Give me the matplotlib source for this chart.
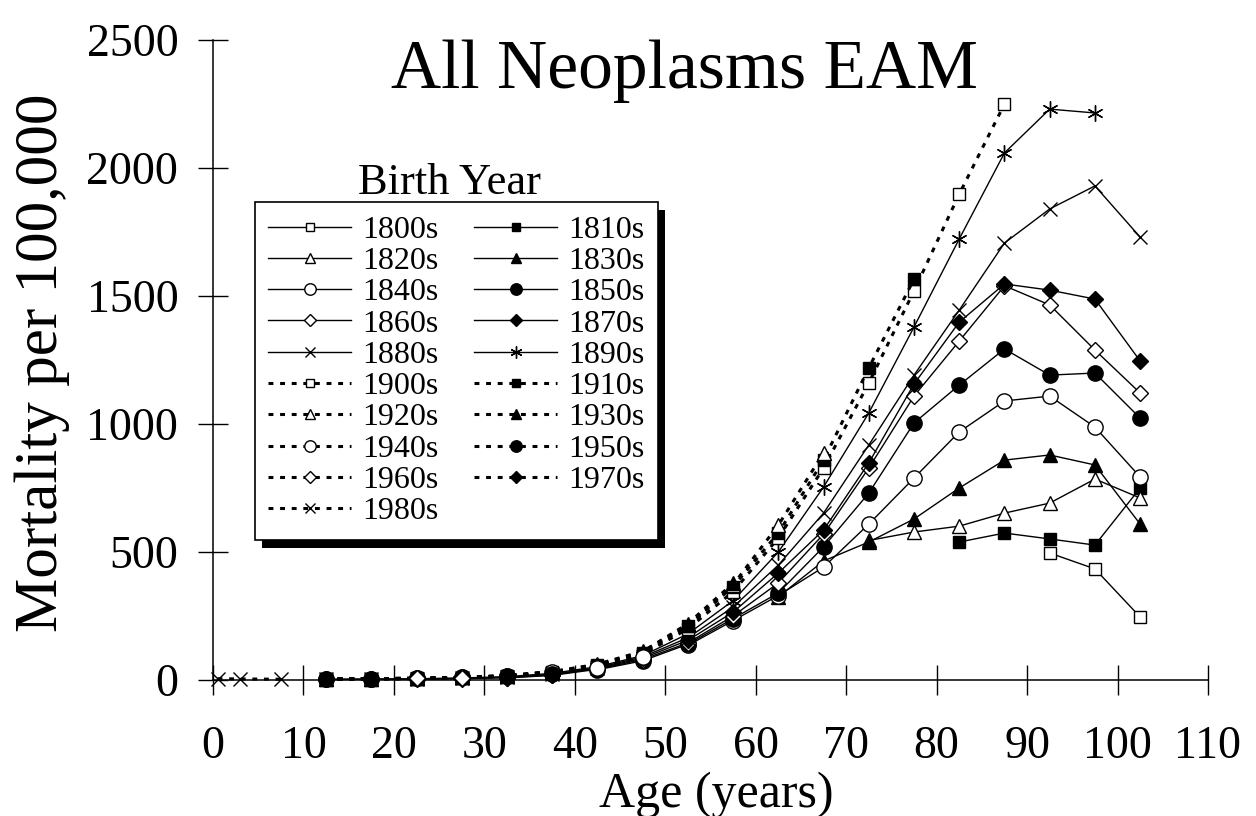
import matplotlib
matplotlib.use("Agg")
import matplotlib.pyplot as plt
from matplotlib.patches import Rectangle
from matplotlib.transforms import IdentityTransform

plt.rcParams['font.family'] = ['Liberation Serif', 'DejaVu Serif']

# ---- data ----
AGE_GRID = [12.5, 17.5, 22.5, 27.5, 32.5, 37.5, 42.5, 47.5, 52.5, 57.5,
            62.5, 67.5, 72.5, 77.5, 82.5, 87.5, 92.5, 97.5, 102.5]
cohorts = ["1800s", "1810s", "1820s", "1830s", "1840s", "1850s", "1860s",
           "1870s", "1880s", "1890s", "1900s", "1910s", "1920s", "1930s",
           "1940s", "1950s", "1960s", "1970s", "1980s"]
start_age = [92.5, 82.5, 72.5, 62.5, 52.5, 42.5, 32.5, 22.5, 12.5, 12.5,
             12.5, 12.5, 12.5, 12.5, 12.5, 12.5, 12.5, 12.5, None]
ages_1980s = [0.5, 3, 7.5]

m1800 = [496, 434, 246]
m1810 = [539, 574, 551, 527, 750]
m1820 = [545, 578, 601, 652, 691, 785, 711]
m1830 = [325, 465, 539, 629, 750, 859, 879, 840, 609]
m1840 = [135, 232, 330, 441, 609, 789, 969, 1090, 1109, 988, 793]
m1850 = [40, 75, 140, 240, 340, 520, 730, 1004, 1152, 1293, 1191, 1199, 1023]
m1860 = [8, 18, 42, 80, 145, 250, 379, 570, 828, 1109, 1324, 1540, 1465, 1289, 1121]
m1870 = [3, 5, 9, 20, 45, 85, 155, 265, 418, 586, 848, 1156, 1398, 1547, 1523, 1488, 1246]
m1880 = [2, 3, 4, 6, 10, 22, 48, 90, 165, 285, 449, 652, 918, 1191, 1445, 1707, 1840, 1930, 1730]
m1890 = [3, 4, 5, 8, 13, 26, 52, 95, 180, 310, 500, 754, 1043, 1379, 1723, 2059, 2230, 2215]
m1900 = [3, 4, 5, 8, 14, 28, 55, 100, 200, 345, 555, 828, 1160, 1520, 1898, 2250]
m1910 = [4, 5, 6, 9, 15, 30, 58, 105, 210, 365, 574, 859, 1219, 1566]
m1920 = [4, 5, 6, 10, 16, 32, 62, 112, 215, 372, 605, 887]
m1930 = [4, 5, 7, 10, 17, 33, 60, 110, 220, 378]
m1940 = [4, 5, 7, 10, 17, 33, 47, 88]
m1950 = [4, 5, 7, 10, 17, 25]
m1960 = [4, 5, 7, 6]
m1970 = [4, 5]
m1980 = [5, 4, 3]
values = [m1800, m1810, m1820, m1830, m1840, m1850, m1860, m1870, m1880, m1890,
          m1900, m1910, m1920, m1930, m1940, m1950, m1960, m1970, m1980]

xticks = list(range(0, 111, 10))
yticks = list(range(0, 2501, 500))

# ---- styles ----
ASTER = (6, 2, 0)
base_styles = [('s', True), ('s', False), ('^', True), ('^', False),
               ('o', True), ('o', False), ('D', True), ('D', False),
               ('x', False), (ASTER, False)]
msize = {'s': 8.5, '^': 10, 'o': 11, 'D': 8, 'x': 10.5, ASTER: 11.5}

fig = plt.figure(figsize=(12.56, 8.16), dpi=100)
ax = fig.add_axes([213 / 1256, 1 - 680 / 816, (1208 - 213) / 1256, (680 - 40) / 816])

handles = []
for i, (name, vals) in enumerate(zip(cohorts, values)):
    mk, hollow = base_styles[i % 10]
    dotted = i >= 10
    if start_age[i] is None:
        xs = ages_1980s
    else:
        k = AGE_GRID.index(start_age[i])
        xs = AGE_GRID[k:k + len(vals)]
    if dotted:
        ls = (0, (1.6, 2.2))
        lw = 2.2
    else:
        ls = '-'
        lw = 1.0
    mfc = 'white' if hollow else 'black'
    if mk in ('x', ASTER):
        mfc = 'black'
    h, = ax.plot(xs, vals, linestyle=ls, linewidth=lw, color='black',
                 marker=mk, markersize=msize[mk], markerfacecolor=mfc,
                 markeredgecolor='black', markeredgewidth=1.0,
                 clip_on=False, label=name, zorder=3 + i * 0.01)
    handles.append(h)

ax.set_xlim(0, 110)
ax.set_ylim(0, 2500)
ax.set_xticks(xticks)
ax.set_yticks(yticks)
for s in ('top', 'right'):
    ax.spines[s].set_visible(False)
for s in ('left', 'bottom'):
    ax.spines[s].set_linewidth(1.1)
ax.tick_params(axis='both', direction='inout', length=22, width=1.0,
               labelsize=33)
ax.tick_params(axis='x', pad=22)
ax.tick_params(axis='y', pad=14)

# legend in row-major order
order = list(range(0, 19, 2)) + list(range(1, 19, 2))
leg = fig.legend([handles[j] for j in order], [cohorts[j] for j in order],
                 ncol=2, loc='upper left',
                 bbox_to_anchor=(255 / 1256, 1 - 202 / 816),
                 bbox_transform=fig.transFigure, borderaxespad=0,
                 fontsize=23, frameon=True, fancybox=False, shadow=False,
                 edgecolor='black', framealpha=1, markerscale=0.75,
                 handlelength=2.6, handletextpad=0.35, columnspacing=1.1,
                 labelspacing=0.06, borderpad=0.42)
leg.get_frame().set_linewidth(1.2)
leg.set_zorder(10)

fig.text(684 / 1256, 1 - 88 / 816, "All Neoplasms EAM", ha='center',
         va='baseline', fontsize=50)
fig.text(449 / 1256, 1 - 183 / 816, "Birth Year", ha='center',
         va='center', fontsize=32)
fig.text(716 / 1256, 1 - 795 / 816, "Age (years)", ha='center',
         va='center', fontsize=36)
fig.text(42 / 1256, 1 - 363 / 816, "Mortality per 100,000", ha='center',
         va='center', rotation=90, fontsize=44)

fig.canvas.draw()
bb = leg.get_window_extent()
shadow = Rectangle((bb.x0 + 7, bb.y0 - 8), bb.width, bb.height,
                   transform=IdentityTransform(), facecolor='black',
                   edgecolor='none', zorder=9)
fig.add_artist(shadow)

fig.savefig("out.png", dpi=100)
